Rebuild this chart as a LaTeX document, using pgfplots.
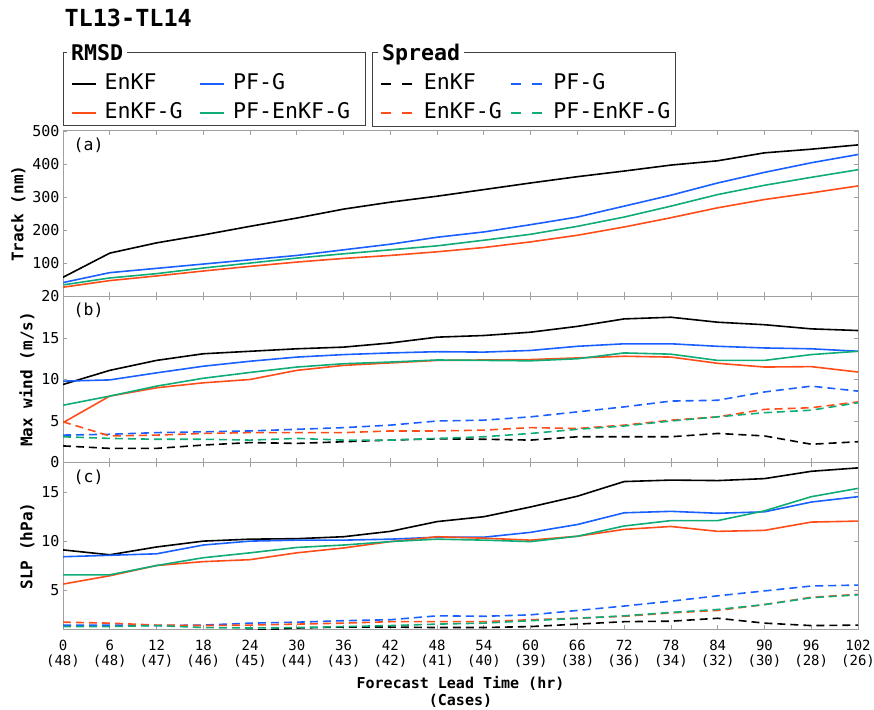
\documentclass[border=0pt]{standalone}
\usepackage{fontspec}
\setmainfont{DejaVu Sans Mono}
\usepackage{pgfplots}
\pgfplotsset{compat=1.18}
\definecolor{cblue}{RGB}{26,95,255}
\definecolor{corange}{RGB}{255,77,26}
\definecolor{cgreen}{RGB}{15,172,120}
\definecolor{frame}{RGB}{160,160,160}
\newcommand{\legfont}{\fontsize{21.6}{24}\selectfont}
\newcommand{\tickfont}{\fontsize{15}{17}\selectfont}
\newcommand{\tl}[2]{\rule{0pt}{18pt}#1\\(#2)}

\pgfplotstableread{
x  k    b    g    o
0  58   42   35   28
6  131  72   56   48
12 162  85   69   62
18 186  98   86   77
24 212  111  101  91
30 237  124  116  104
36 264  141  129  115
42 285  158  141  124
48 303  179  153  135
54 323  195  170  148
60 343  217  188  165
66 362  240  212  185
72 379  273  240  210
78 397  306  273  238
84 410  343  308  268
90 434  375  336  293
96 445  404  360  313
102 458 429  383  334
}\trk

\pgfplotstableread{
x  k    b     g     o     kd   bd   od   gd
0  9.4  9.8   6.9   4.8   2.0  3.3  4.9  3.1
6  11.1 9.95  8.0   8.0   1.7  3.4  3.2  2.9
12 12.3 10.8  9.2   9.0   1.7  3.6  3.3  2.8
18 13.1 11.6  10.15 9.6   2.1  3.7  3.5  2.8
24 13.4 12.2  10.85 10.0  2.4  3.8  3.6  2.7
30 13.7 12.7  11.5  11.1  2.3  4.0  3.6  2.9
36 13.9 13.0  11.9  11.7  2.5  4.2  3.6  2.7
42 14.4 13.2  12.1  12.0  2.7  4.5  3.8  2.7
48 15.1 13.35 12.35 12.3  2.85 5.0  3.8  2.9
54 15.3 13.3  12.3  12.35 2.8  5.1  3.9  3.1
60 15.7 13.5  12.25 12.4  2.7  5.5  4.2  3.5
66 16.4 14.0  12.5  12.6  3.1  6.1  4.1  4.0
72 17.3 14.3  13.2  12.8  3.1  6.7  4.5  4.4
78 17.5 14.3  13.05 12.7  3.1  7.4  5.1  5.0
84 16.9 14.0  12.3  11.95 3.5  7.5  5.5  5.5
90 16.6 13.8  12.3  11.5  3.2  8.5  6.4  6.0
96 16.1 13.7  13.0  11.55 2.2  9.2  6.6  6.3
102 15.9 13.4 13.4  10.9  2.5  8.6  7.3  7.2
}\wnd

\pgfplotstableread{
x  k     b     g     o     kd   bd   od   gd
0  9.1   8.4   6.55  5.6   0.8  1.4  1.7  1.25
6  8.6   8.55  6.55  6.45  0.75 1.4  1.6  1.25
12 9.4   8.7   7.5   7.5   0.7  1.35 1.4  1.35
18 10.0  9.6   8.3   7.9   0.75 1.4  1.35 1.15
24 10.2  10.0  8.8   8.1   0.85 1.6  1.4  1.1
30 10.25 10.1  9.35  8.8   1.1  1.7  1.5  1.15
36 10.45 10.1  9.6   9.3   1.2  1.85 1.6  1.25
42 11.0  10.2  9.95  9.95  1.2  1.95 1.75 1.35
48 12.0  10.4  10.2  10.45 1.15 2.35 1.75 1.5
54 12.5  10.4  10.1  10.3  1.15 2.3  1.75 1.6
60 13.5  10.9  9.95  10.1  1.25 2.45 1.95 1.85
66 14.6  11.7  10.5  10.5  1.5  2.9  2.1  2.1
72 16.1  12.9  11.55 11.2  1.75 3.35 2.3  2.35
78 16.25 13.05 12.1  11.5  1.8  3.85 2.65 2.7
84 16.2  12.85 12.1  11.0  2.1  4.4  2.9  3.0
90 16.4  13.0  13.1  11.1  1.6  4.9  3.5  3.5
96 17.15 14.0  14.55 11.95 1.35 5.4  4.25 4.2
102 17.5 14.55 15.4  12.05 1.4  5.5  4.55 4.5
}\slp

\pgfplotsset{
 panel/.style={
   width=795pt, height=166pt, scale only axis,
   xmin=0, xmax=102, xtick={0,6,...,102},
   tick align=inside, major tick length=4pt,
   axis line style={frame, line width=1pt},
   tick style={frame, line width=0.8pt},
   every tick label/.append style={font=\tickfont},
   /pgf/number format/assume math mode=true,
   ylabel style={font=\fontsize{16}{18}\selectfont\bfseries},
 },
 sol/.style={line width=1.6pt},
 das/.style={line width=1.6pt, dash pattern=on 8pt off 5pt},
}
\tikzset{plab/.style={anchor=west, font=\fontsize{16.5}{18}\selectfont}}

\begin{document}
\begin{tikzpicture}
\useasboundingbox (0pt,0pt) rectangle (874pt,709pt);

% (a)
\begin{axis}[panel, at={(63pt,578pt)}, anchor=north west, height=165.5pt,
  ymin=0, ymax=500, ytick={0,100,200,300,400,500}, yticklabels={,100,200,300,400,500},
  xticklabels={}, ylabel={Track (nm)},
  legend columns=2, legend cell align=left,
  legend image code/.code={\draw[#1] (0pt,0pt) -- (24pt,0pt);},
  legend style={at={(axis description cs:0.0097,1.350)}, anchor=north west,
    draw=none, fill=none, inner sep=0pt, font=\legfont, row sep=8pt, column sep=8pt,
    nodes={inner sep=0pt, text height=16pt, text depth=5pt},
    /tikz/every even column/.append style={column sep=17pt}},
]
\addplot[sol, black] table[x=x,y=k]{\trk}; \addlegendentry{EnKF}
\addplot[sol, cblue] table[x=x,y=b]{\trk}; \addlegendentry{PF-G}
\addplot[sol, corange] table[x=x,y=o]{\trk}; \addlegendentry{EnKF-G}
\addplot[sol, cgreen] table[x=x,y=g]{\trk}; \addlegendentry{PF-EnKF-G}
\node[plab] at (axis description cs:0.009,0.915) {(a)};
\end{axis}

% (b)
\begin{axis}[panel, at={(63pt,412.5pt)}, anchor=north west,
  ymin=0, ymax=20, ytick={0,5,10,15,20},
  xticklabels={}, ylabel={Max wind (m/s)},
  legend columns=2, legend cell align=left,
  legend image code/.code={\draw[#1, dash pattern=on 10pt off 11pt] (0pt,0pt) -- (32pt,0pt);},
  legend style={at={(axis description cs:0.3987,2.346)}, anchor=north west,
    draw=none, fill=none, inner sep=0pt, font=\legfont, row sep=8pt, column sep=10pt,
    nodes={inner sep=0pt, text height=16pt, text depth=5pt},
    /tikz/every even column/.append style={column sep=8pt}},
]
\addplot[das, black] table[x=x,y=kd]{\wnd}; \addlegendentry{EnKF}
\addplot[das, cblue] table[x=x,y=bd]{\wnd}; \addlegendentry{PF-G}
\addplot[das, corange] table[x=x,y=od]{\wnd}; \addlegendentry{EnKF-G}
\addplot[das, cgreen] table[x=x,y=gd]{\wnd}; \addlegendentry{PF-EnKF-G}
\addplot[sol, black] table[x=x,y=k]{\wnd};
\addplot[sol, cblue] table[x=x,y=b]{\wnd};
\addplot[sol, corange] table[x=x,y=o]{\wnd};
\addplot[sol, cgreen] table[x=x,y=g]{\wnd};
\node[plab] at (axis description cs:0.009,0.915) {(b)};
\end{axis}

% (c)
\begin{axis}[panel, at={(63pt,246pt)}, anchor=north west,
  ymin=1, ymax=18, ytick={5,10,15}, ylabel={SLP (hPa)},
  xticklabels={{\tl{0}{48}},{\tl{6}{48}},{\tl{12}{47}},{\tl{18}{46}},{\tl{24}{45}},{\tl{30}{44}},{\tl{36}{43}},{\tl{42}{42}},{\tl{48}{41}},{\tl{54}{40}},{\tl{60}{39}},{\tl{66}{38}},{\tl{72}{36}},{\tl{78}{34}},{\tl{84}{32}},{\tl{90}{30}},{\tl{96}{28}},{\tl{102}{26}}},
  every x tick label/.append style={align=center, font=\fontsize{14}{15}\selectfont},
  xlabel={Forecast Lead Time (hr)\\(Cases)},
  xlabel style={at={(axis description cs:0.5,0)}, anchor=north, align=center, font=\fontsize{15}{17}\selectfont\bfseries, yshift=-44pt},
]
\addplot[das, black] table[x=x,y=kd]{\slp};
\addplot[das, cblue] table[x=x,y=bd]{\slp};
\addplot[das, corange] table[x=x,y=od]{\slp};
\addplot[das, cgreen] table[x=x,y=gd]{\slp};
\addplot[sol, black] table[x=x,y=k]{\slp};
\addplot[sol, cblue] table[x=x,y=b]{\slp};
\addplot[sol, corange] table[x=x,y=o]{\slp};
\addplot[sol, cgreen] table[x=x,y=g]{\slp};
\node[plab] at (axis description cs:0.009,0.915) {(c)};
\end{axis}

% legend frames and titles
\draw[black!75, line width=1pt] (63pt,656.7pt) rectangle (365pt,583pt);
\draw[black!75, line width=1pt] (372.7pt,656.3pt) rectangle (675pt,582.3pt);
\node[anchor=base west, fill=white, inner xsep=4pt, inner ysep=1pt, font=\legfont\bfseries] at (67pt,648pt) {RMSD};
\node[anchor=base west, fill=white, inner xsep=4pt, inner ysep=1pt, font=\legfont\bfseries] at (378pt,648pt) {Spread};
\node[anchor=base west, font=\fontsize{23.5}{28}\selectfont\bfseries] at (61pt,682.3pt) {TL13-TL14};
\end{tikzpicture}
\end{document}
